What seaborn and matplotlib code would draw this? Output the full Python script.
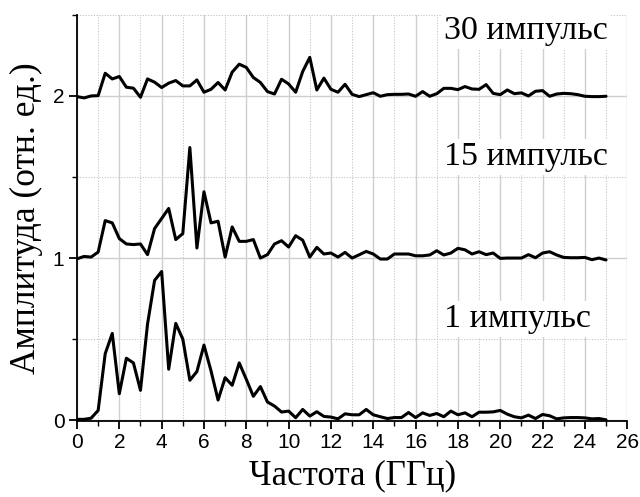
import numpy as np
import pandas as pd
import matplotlib
matplotlib.use("Agg")
import matplotlib.pyplot as plt
from matplotlib.ticker import MultipleLocator
import seaborn as sns

# Frequency grid of the spectra (GHz), 1/3 GHz step
freq = np.linspace(0, 25, 76)

# Normalised spectral amplitude, each curve offset by its level
amp_1 = [0.005, 0.005, 0.012, 0.060, 0.410, 0.535, 0.163, 0.382, 0.353, 0.184,
         0.593, 0.862, 0.917, 0.314, 0.597, 0.500, 0.246, 0.300, 0.463, 0.304,
         0.124, 0.262, 0.215, 0.353, 0.252, 0.147, 0.207, 0.112, 0.087, 0.050,
         0.056, 0.015, 0.066, 0.025, 0.052, 0.023, 0.019, 0.008, 0.039, 0.033,
         0.033, 0.066, 0.033, 0.021, 0.010, 0.016, 0.016, 0.047, 0.016, 0.045,
         0.029, 0.041, 0.021, 0.056, 0.033, 0.045, 0.021, 0.049, 0.049, 0.051,
         0.060, 0.037, 0.021, 0.014, 0.031, 0.010, 0.035, 0.027, 0.008, 0.014,
         0.016, 0.016, 0.014, 0.008, 0.010, 0.002]

amp_15 = [0.995, 1.010, 1.006, 1.037, 1.231, 1.217, 1.120, 1.087, 1.083, 1.087,
          1.021, 1.182, 1.244, 1.306, 1.114, 1.151, 1.682, 1.062, 1.409, 1.217,
          1.227, 1.006, 1.192, 1.103, 1.103, 1.114, 1.000, 1.021, 1.087, 1.107,
          1.068, 1.138, 1.110, 1.006, 1.066, 1.025, 1.031, 1.006, 1.035, 1.000,
          1.020, 1.041, 1.025, 0.994, 0.994, 1.025, 1.025, 1.025, 1.014, 1.014,
          1.019, 1.045, 1.019, 1.031, 1.060, 1.051, 1.025, 1.039, 1.021, 1.031,
          0.998, 1.000, 1.000, 1.000, 1.021, 1.002, 1.031, 1.039, 1.019, 1.004,
          1.002, 1.002, 1.004, 0.990, 1.000, 0.988]

amp_30 = [1.996, 1.988, 2.000, 2.002, 2.140, 2.105, 2.120, 2.054, 2.048, 1.992,
          2.105, 2.085, 2.052, 2.079, 2.095, 2.062, 2.062, 2.099, 2.023, 2.041,
          2.083, 2.037, 2.147, 2.196, 2.176, 2.114, 2.083, 2.027, 2.012, 2.103,
          2.074, 2.023, 2.151, 2.238, 2.037, 2.110, 2.041, 2.023, 2.072, 2.010,
          1.996, 2.008, 2.020, 1.998, 2.008, 2.010, 2.010, 2.012, 1.998, 2.027,
          1.998, 2.014, 2.047, 2.047, 2.039, 2.058, 2.043, 2.041, 2.070, 2.016,
          2.008, 2.037, 2.014, 2.019, 2.000, 2.029, 2.033, 1.998, 2.012, 2.016,
          2.014, 2.008, 1.998, 1.996, 1.996, 1.998]

series_names = ["1 импульс", "15 импульс", "30 импульс"]
label_y = [0.575, 1.575, 2.35]

df = pd.concat([
    pd.DataFrame({"freq": freq, "amp": vals, "series": name})
    for name, vals in zip(series_names, [amp_1, amp_15, amp_30])
], ignore_index=True)

sns.set_theme(style="white")
plt.rcParams["font.family"] = ["Liberation Serif", "DejaVu Serif"]
plt.rcParams["text.color"] = "black"
plt.rcParams["axes.labelcolor"] = "black"
plt.rcParams["xtick.color"] = "black"
plt.rcParams["ytick.color"] = "black"
tick_font = ["Liberation Sans Narrow", "Liberation Sans", "DejaVu Sans"]

fig = plt.figure(figsize=(6.4, 4.97), dpi=100)
ax = fig.add_axes([0.1203, 0.153, 0.8597, 0.817])

sns.lineplot(data=df, x="freq", y="amp", hue="series",
             palette=["black"] * 3, linewidth=2.2, legend=False, ax=ax,
             zorder=3)

ax.set_xlim(0, 26)
ax.set_ylim(-0.005, 2.5)
ax.xaxis.set_major_locator(MultipleLocator(2))
ax.xaxis.set_minor_locator(MultipleLocator(1))
ax.yaxis.set_major_locator(MultipleLocator(1))
ax.yaxis.set_minor_locator(MultipleLocator(0.5))

ax.grid(which="major", color="#cfcfcf", linewidth=1.0, linestyle="-", zorder=0)
ax.grid(which="minor", color="#c4c4c4", linewidth=0.7, linestyle=(0, (1.2, 1.6)), zorder=0)

for side in ("top", "right"):
    ax.spines[side].set_visible(False)
for side in ("left", "bottom"):
    ax.spines[side].set_color("black")
    ax.spines[side].set_linewidth(1.3)

ax.tick_params(which="major", direction="out", length=6, width=1.3,
               color="black", labelcolor="black", labelsize=15, pad=3)
ax.tick_params(which="minor", direction="out", length=3.5, width=1.0,
               color="black")
ax.tick_params(axis="x", bottom=True, which="both")
ax.tick_params(axis="y", left=True, which="both")
for lab in ax.get_xticklabels() + ax.get_yticklabels():
    lab.set_family(tick_font)

ax.set_xlabel("Частота (ГГц)", fontsize=25, labelpad=5, color="black")
ax.set_ylabel("Амплитуда (отн. ед.)", fontsize=25.5, labelpad=7, color="black")

for name, yy in zip(series_names, label_y):
    ax.text(17.35, yy, name, fontsize=24.5, ha="left", va="baseline",
            color="black", zorder=4,
            bbox=dict(facecolor="white", edgecolor="none", pad=2))

fig.savefig("out.png", dpi=100)
